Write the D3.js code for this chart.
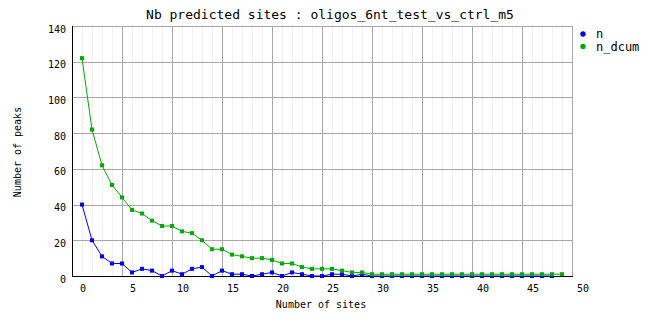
<!DOCTYPE html>
<html lang="en">
<head>
<meta charset="UTF-8">
<title>Nb predicted sites</title>
<style>
    body { margin: 0; background: #ffffff; }
    svg { display: block; }
    text { font-family: "DejaVu Sans Mono", monospace; fill: #000; }
    .grid-major { stroke: #a8a8a8; stroke-width: 1; }
    .grid-minor { stroke: #f0f0f0; stroke-width: 1; }
</style>
</head>
<body>
<div id="chart"></div>
<script src="https://d3js.org/d3.v7.min.js"></script>
<script>
    // values (index = number of sites)
    const nValues = [40, 20, 11, 7, 7, 2, 4, 3, 0, 3, 1, 4, 5, 0, 3, 1, 1, 0, 1, 2,
                     0, 2, 1, 0, 0, 1, 1, 0, 1, 0, 0, 0, 0, 0, 0, 0, 0, 0, 0, 0,
                     0, 0, 0, 0, 0, 0, 0, 0];
    const nDcumValues = [122, 82, 62, 51, 44, 37, 35, 31, 28, 28, 25, 24, 20, 15, 15, 12, 11, 10, 10, 9,
                         7, 7, 5, 4, 4, 4, 3, 2, 2, 1, 1, 1, 1, 1, 1, 1, 1, 1, 1, 1,
                         1, 1, 1, 1, 1, 1, 1, 1, 1];
    const xTickLabels = [0, 5, 10, 15, 20, 25, 30, 35, 40, 45, 50];
    const yTicks = [0, 20, 40, 60, 80, 100, 120, 140];

    const series = [
        { name: "n", color: "#0000ff", values: nValues },
        { name: "n_dcum", color: "#00aa00", values: nDcumValues }
    ];

    const width = 662, height = 328;
    const x = d3.scaleLinear().domain([-1, 49]).range([72, 572]);
    const y = d3.scaleLinear().domain([0, 140]).range([276, 26]);

    const svg = d3.select("#chart").append("svg")
        .attr("width", width)
        .attr("height", height);

    // minor vertical grid, every site
    svg.append("g").selectAll("line")
        .data(d3.range(-1, 50).filter(v => (v + 1) % 5 !== 0))
        .join("line")
        .attr("class", "grid-minor")
        .attr("x1", d => Math.round(x(d)) + 0.5).attr("x2", d => Math.round(x(d)) + 0.5)
        .attr("y1", y(140)).attr("y2", y(0));

    // major vertical grid (one step left of the labels, like the original)
    svg.append("g").selectAll("line")
        .data(d3.range(4, 50, 5))
        .join("line")
        .attr("class", "grid-major")
        .attr("x1", d => Math.round(x(d)) + 0.5).attr("x2", d => Math.round(x(d)) + 0.5)
        .attr("y1", y(140)).attr("y2", y(0));

    // horizontal grid
    svg.append("g").selectAll("line")
        .data(yTicks.filter(v => v > 0))
        .join("line")
        .attr("class", "grid-major")
        .attr("x1", x(-1)).attr("x2", x(49))
        .attr("y1", d => Math.round(y(d)) + 0.5).attr("y2", d => Math.round(y(d)) + 0.5);

    // axis lines
    svg.append("line")
        .attr("x1", x(-1) + 0.5).attr("x2", x(-1) + 0.5)
        .attr("y1", y(140)).attr("y2", y(0) + 1)
        .attr("stroke", "#000");
    svg.append("line")
        .attr("x1", x(-1)).attr("x2", x(49) + 1)
        .attr("y1", y(0) + 0.5).attr("y2", y(0) + 0.5)
        .attr("stroke", "#000");

    // tick labels
    svg.append("g").selectAll("text")
        .data(yTicks)
        .join("text")
        .attr("x", 66)
        .attr("y", d => y(d) + 3)
        .attr("dy", "0.35em")
        .attr("text-anchor", "end")
        .style("font-size", "10px")
        .text(d => d);

    svg.append("g").selectAll("text")
        .data(xTickLabels)
        .join("text")
        .attr("x", d => x(d) + 1)
        .attr("y", 288)
        .attr("dy", "0.35em")
        .attr("text-anchor", "middle")
        .style("font-size", "10px")
        .text(d => d);

    // lines and square markers
    series.forEach(s => {
        const g = svg.append("g");
        g.append("path")
            .datum(s.values)
            .attr("fill", "none")
            .attr("stroke", s.color)
            .attr("stroke-width", 1)
            .attr("d", d3.line().x((d, i) => x(i)).y(d => y(d)));
        g.selectAll("rect")
            .data(s.values)
            .join("rect")
            .attr("x", (d, i) => x(i) - 2)
            .attr("y", d => y(d) - 2)
            .attr("width", 4)
            .attr("height", 4)
            .attr("fill", s.color);
    });

    // title
    svg.append("text")
        .attr("x", 330)
        .attr("y", 14)
        .attr("dy", "0.35em")
        .attr("text-anchor", "middle")
        .style("font-size", "13px")
        .text("Nb predicted sites : oligos_6nt_test_vs_ctrl_m5");

    // axis titles
    svg.append("text")
        .attr("x", 321)
        .attr("y", 304)
        .attr("dy", "0.35em")
        .attr("text-anchor", "middle")
        .style("font-size", "10px")
        .text("Number of sites");

    svg.append("text")
        .attr("transform", "translate(17,152) rotate(-90)")
        .attr("dy", "0.35em")
        .attr("text-anchor", "middle")
        .style("font-size", "10px")
        .text("Number of peaks");

    // legend
    const legend = svg.append("g").selectAll("g")
        .data(series)
        .join("g")
        .attr("transform", (d, i) => `translate(583,${34 + i * 12.5})`);
    legend.append("path")
        .attr("d", d3.symbol(d3.symbolCircle, 22))
        .attr("fill", d => d.color);
    legend.append("text")
        .attr("x", 13)
        .attr("dy", "0.35em")
        .style("font-size", "12px")
        .text(d => d.name);
</script>
</body>
</html>
